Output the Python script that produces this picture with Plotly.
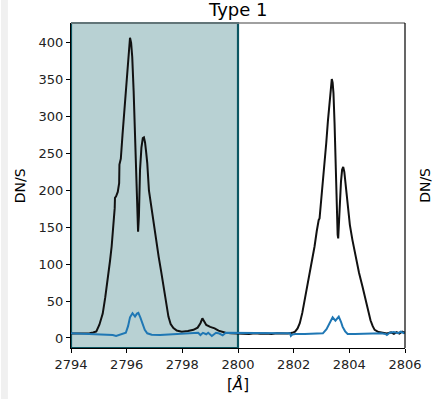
import plotly.graph_objects as go

# ---- data ----
wave_black = [2794.00, 2794.30, 2794.55, 2794.67, 2794.80, 2794.91, 2795.02, 2795.14, 2795.23, 2795.32,
              2795.40, 2795.46, 2795.53, 2795.57, 2795.58, 2795.62, 2795.68, 2795.73, 2795.74, 2795.79,
              2795.85, 2795.91, 2795.97, 2796.03, 2796.08, 2796.12, 2796.16, 2796.20, 2796.25, 2796.29,
              2796.33, 2796.36, 2796.39, 2796.41, 2796.44, 2796.48, 2796.53, 2796.58, 2796.62, 2796.66,
              2796.70, 2796.74, 2796.80, 2796.88, 2796.97, 2797.06, 2797.15, 2797.24, 2797.33, 2797.42,
              2797.50, 2797.58, 2797.68, 2797.80, 2797.98, 2798.20, 2798.40, 2798.55, 2798.65, 2798.72,
              2798.79, 2798.86, 2799.00, 2799.16, 2799.30, 2799.39, 2799.55, 2799.75, 2800.00,
              2800.2, 2800.4, 2800.6, 2800.8, 2801.0, 2801.2, 2801.4, 2801.6, 2801.8, 2801.95,
              2802.05, 2802.14, 2802.22, 2802.31, 2802.40, 2802.49, 2802.58, 2802.67, 2802.75, 2802.83,
              2802.87, 2802.90, 2802.93, 2802.99, 2803.05, 2803.11, 2803.17, 2803.23, 2803.29, 2803.34,
              2803.37, 2803.40, 2803.43, 2803.47, 2803.50, 2803.53, 2803.55, 2803.58, 2803.60, 2803.63,
              2803.66, 2803.70, 2803.74, 2803.78, 2803.82, 2803.86, 2803.90, 2803.94, 2804.02, 2804.11,
              2804.23, 2804.35, 2804.47, 2804.58, 2804.67, 2804.76, 2804.84, 2804.91, 2805.05, 2805.18,
              2805.35, 2805.5, 2805.6, 2805.7, 2805.8, 2805.9, 2806.0]
flux_black = [6, 6.5, 6, 6.3, 7.5, 9, 18, 33, 55, 79,
              104, 124, 152, 176, 190, 192, 198, 210, 235, 243,
              275, 305, 335, 363, 392, 407, 400, 381, 335, 282,
              235, 200, 160, 144, 165, 228, 258, 271, 272, 265,
              252, 237, 200, 178, 156, 133, 110, 90, 70, 48,
              29, 19, 13.5, 10, 8.6, 9.5, 11, 14, 20, 26.7,
              22, 17.6, 15, 13, 10, 8.6, 7, 6.5, 6,
              6.5, 5.5, 6.5, 5.8, 6.2, 5.5, 6.3, 5.8, 6.0, 7,
              8.6, 13, 20, 34, 51.5, 69, 88, 106, 124, 145,
              158, 160, 162, 187, 205, 234, 264, 294, 323, 345,
              351, 346, 332, 290, 241, 195, 160, 140, 135, 160,
              190, 212, 228, 232, 225, 210, 196, 174, 153, 133,
              110, 88, 70, 51.5, 36, 24, 16, 11, 8, 7,
              6, 7.5, 5.5, 8, 6, 8.5, 7]

wave_blue = [2794.00, 2794.3, 2794.6, 2794.9, 2795.2, 2795.5, 2795.62, 2795.75, 2795.90, 2795.97,
             2796.05, 2796.12, 2796.21, 2796.30, 2796.37, 2796.42, 2796.49, 2796.56, 2796.65, 2796.74,
             2796.9, 2797.2, 2797.5, 2797.8, 2798.1, 2798.4, 2798.57, 2798.65, 2798.74, 2798.86,
             2798.93, 2799.06, 2799.21, 2799.33, 2799.45, 2799.56, 2799.8, 2800.0, 2800.3, 2800.6,
             2800.9, 2801.2, 2801.5, 2801.75, 2801.87, 2801.90, 2801.95, 2802.05, 2802.4, 2802.8,
             2803.05, 2803.18, 2803.29, 2803.40, 2803.50, 2803.62, 2803.70, 2803.76, 2803.85, 2803.94,
             2804.2, 2804.5, 2804.8, 2804.94, 2805.15, 2805.30, 2805.35, 2805.45, 2805.6, 2805.75,
             2805.85, 2805.95, 2806.0]
flux_blue = [6.3, 6, 5.5, 5, 4.5, 4, 2.7, 4, 5.5, 7,
             16, 28, 33.5, 29, 33, 34, 28, 20, 11, 6.3,
             4.5, 4, 4.5, 5, 5.5, 6.5, 7, 4, 7, 5,
             7, 2.7, 7, 6, 3.6, 7, 7, 7, 7.5, 7,
             7.5, 7, 7, 6.5, 6.3, 2.7, 4.5, 5.4, 5.5, 6,
             6.3, 12, 20, 28, 23.5, 29, 22, 15, 9, 5.4,
             5.5, 6, 6.8, 7, 6.5, 5.5, 4, 7, 8, 6.5,
             8.5, 6.5, 8]

x_ticks = [2794, 2796, 2798, 2800, 2802, 2804, 2806]
y_ticks = [0, 50, 100, 150, 200, 250, 300, 350, 400]
x_range = [2794, 2806]
y_range = [-13.6, 427]
window = [2794, 2800]
title_text = "Type 1"
ylabel_text = "DN/S"
xlabel_text = "[<i>Å</i>]"

fig = go.Figure()
fig.add_trace(go.Scatter(x=wave_black, y=flux_black, mode="lines",
                         line=dict(color="#111111", width=2), showlegend=False))
fig.add_trace(go.Scatter(x=wave_blue, y=flux_blue, mode="lines",
                         line=dict(color="#1f77b4", width=2), showlegend=False))

# shaded window
fig.add_shape(type="rect", xref="x", yref="y domain", x0=window[0], x1=window[1], y0=0, y1=1,
              fillcolor="#b8d1d3", line=dict(color="#0b5662", width=2.2), layer="below")
# top and right spines
fig.add_shape(type="line", xref="paper", yref="paper", x0=0, x1=1, y0=1, y1=1,
              line=dict(color="#808080", width=1.5))
fig.add_shape(type="line", xref="paper", yref="paper", x0=1, x1=1, y0=0, y1=1,
              line=dict(color="#000000", width=1.2))
# light gray strip at the left edge
fig.add_shape(type="rect", xref="paper", yref="paper", x0=-0.2094, x1=-0.1888, y0=-0.2, y1=1.1,
              fillcolor="#f0f0f0", line=dict(width=0), layer="below")

font = "DejaVu Sans, sans-serif"
fig.add_annotation(text=title_text, xref="paper", yref="paper", x=0.5, y=1.04,
                   showarrow=False, font=dict(family=font, size=18, color="#000"),
                   xanchor="center", yanchor="middle")
fig.add_annotation(text=ylabel_text, xref="paper", yref="paper", x=-0.1534, y=0.5,
                   textangle=-90, showarrow=False, font=dict(family=font, size=14, color="#000"),
                   xanchor="center", yanchor="middle")
fig.add_annotation(text=ylabel_text, xref="paper", yref="paper", x=1.058, y=0.5,
                   textangle=-90, showarrow=False, font=dict(family=font, size=14, color="#000"),
                   xanchor="center", yanchor="middle")
fig.add_annotation(text=xlabel_text, xref="paper", yref="paper", x=0.5, y=-0.111,
                   showarrow=False, font=dict(family=font, size=15, color="#000"),
                   xanchor="center", yanchor="middle")

fig.update_xaxes(range=x_range, tickvals=x_ticks, ticks="outside", ticklen=4, tickcolor="#000",
                 showline=True, linecolor="#000", linewidth=1.2, showgrid=False, zeroline=False,
                 tickfont=dict(family=font, size=13, color="#222"))
fig.update_yaxes(range=y_range, tickvals=y_ticks, ticks="outside", ticklen=4, tickcolor="#000",
                 showline=True, linecolor="#000", linewidth=1.2, showgrid=False, zeroline=False,
                 tickfont=dict(family=font, size=13, color="#222"))
fig.update_layout(width=434, height=399, margin=dict(l=71, r=24, t=23, b=51),
                  paper_bgcolor="white", plot_bgcolor="white")

fig.write_html("out.html", config={"displayModeBar": False},
               post_script="document.body.style.margin='0px';")
